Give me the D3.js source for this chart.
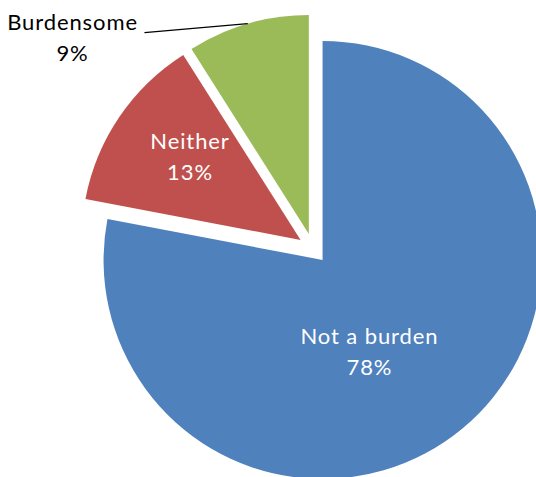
<!DOCTYPE html>
<html>
<head>
<meta charset="utf-8">
<script src="https://cdn.jsdelivr.net/npm/d3@7"></script>
<style>
  html, body { margin: 0; padding: 0; background: #fff; }
  svg { display: block; }
  text { font-family: Lato, "Open Sans", sans-serif; }
</style>
</head>
<body>
<div id="chart"></div>
<script>
// ---- data ----
const categories = ["Not a burden", "Neither", "Burdensome"];
const values = [78, 13, 9];
const pctLabels = ["78%", "13%", "9%"];
const colors = ["#4F81BD", "#C0504D", "#9BBB59"];

// ---- layout ----
const W = 536, H = 477;
const cx = 313, cy = 248.4, R = 219, explode = 15;
const deg = Math.PI / 180;
// label placement (polar, relative to each exploded slice's apex)
const labelLayout = [
  { angle: 153.2 * deg, dist: 103, inside: true },
  { angle: 307 * deg, dist: 139, inside: true },
  { angle: 309.7 * deg, dist: 307.7, inside: false }
];
const fontSize = 22, lineGap = 31, letterSpacing = 0.9;

const svg = d3.select("#chart").append("svg")
  .attr("width", W).attr("height", H);

const pie = d3.pie().sort(null).value(d => d);
const arcs = pie(values);
const arc = d3.arc().innerRadius(0).outerRadius(R);

const g = svg.append("g").attr("transform", `translate(${cx},${cy})`);

arcs.forEach((d, i) => {
  const mid = (d.startAngle + d.endAngle) / 2;
  const [ox, oy] = d3.pointRadial(mid, explode);
  const sg = g.append("g").attr("transform", `translate(${ox},${oy})`);
  sg.append("path").attr("d", arc(d)).attr("fill", colors[i]);

  const L = labelLayout[i];
  const [lx, ly] = d3.pointRadial(L.angle, L.dist);
  const t = sg.append("text")
    .attr("text-anchor", "middle")
    .attr("font-size", fontSize)
    .attr("letter-spacing", letterSpacing)
    .attr("fill", L.inside ? "#fff" : "#000");
  t.append("tspan").attr("x", lx + letterSpacing / 2).attr("y", ly - 7.4).text(categories[i]);
  t.append("tspan").attr("x", lx + letterSpacing / 2).attr("y", ly - 7.4 + lineGap).text(pctLabels[i]);

  if (!L.inside) {
    const [ax, ay] = d3.pointRadial(mid, R);
    const w = t.node().getBBox().width;
    sg.append("line")
      .attr("x1", ax).attr("y1", ay)
      .attr("x2", lx + w / 2 + 7).attr("y2", ly - 4.8)
      .attr("stroke", "#000").attr("stroke-width", 1.2);
  }
});
</script>
</body>
</html>
